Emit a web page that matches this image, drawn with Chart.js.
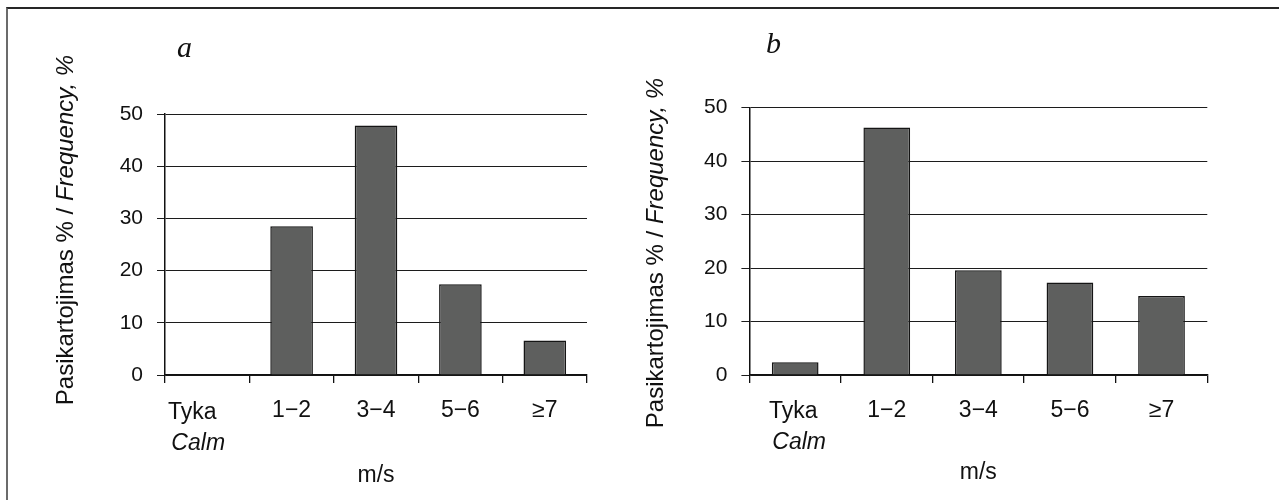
<!DOCTYPE html>
<html>
<head>
<meta charset="utf-8">
<script src="https://cdn.jsdelivr.net/npm/chart.js@4/dist/chart.umd.min.js"></script>
<style>
  html, body { margin: 0; padding: 0; background: #fff; }
  #page { position: relative; width: 1279px; height: 500px; overflow: hidden; }
  #frame { position: absolute; left: 6px; top: 7px; width: 1400px; height: 600px;
           border-top: 2px solid #262626; border-left: 2px solid #6b6b6b; }
  .panel { position: absolute; top: 0; }
</style>
</head>
<body>
<div id="page">
  <div id="frame"></div>
  <canvas id="chartA" class="panel" width="640" height="500" style="left:0"></canvas>
  <canvas id="chartB" class="panel" width="639" height="500" style="left:640px"></canvas>
</div>
<script>
'use strict';

// wind speed classes, m/s
const categories = ['Tyka', '1−2', '3−4', '5−6', '≥7'];
const calmLabel = 'Calm';
// frequency, % (a and b panels)
const frequencyA = [0, 28.5, 47.8, 17.4, 6.6];
const frequencyB = [2.4, 46.3, 19.6, 17.3, 14.8];
const yTickValues = [0, 10, 20, 30, 40, 50];
const yTitle = ['Pasikartojimas % / ', 'Frequency, %'];
const xTitle = 'm/s';
const panelLetters = ['a', 'b'];

const sans = '"Liberation Sans", Arial, sans-serif';
const serif = '"Liberation Serif", "Times New Roman", serif';
const ink = '#111';

Chart.defaults.font.family = sans;
Chart.defaults.color = ink;

// letter, first category label (two styles) and the mixed-style y title
const panelText = {
  id: 'panelText',
  afterDraw(chart, args, opts) {
    const ctx = chart.ctx;
    const x = chart.scales.x;
    const cx = x.getPixelForTick(0) + opts.firstShift;

    ctx.save();
    ctx.fillStyle = ink;
    ctx.textBaseline = 'alphabetic';

    ctx.textAlign = 'left';
    ctx.font = 'italic 30px ' + serif;
    ctx.fillText(opts.letter, opts.letterX, opts.letterY);

    ctx.textAlign = 'center';
    ctx.font = '23px ' + sans;
    ctx.fillText(categories[0], cx, opts.firstBaseline);
    ctx.font = 'italic 23px ' + sans;
    ctx.fillText(calmLabel, cx + 6, opts.firstBaseline + 31);

    ctx.translate(opts.titleX, opts.titleY);
    ctx.rotate(-Math.PI / 2);
    ctx.textAlign = 'left';
    ctx.font = '24px ' + sans;
    const w1 = ctx.measureText(yTitle[0]).width;
    ctx.font = 'italic 24px ' + sans;
    const w2 = ctx.measureText(yTitle[1]).width;
    const start = -(w1 + w2) / 2;
    ctx.font = '24px ' + sans;
    ctx.fillText(yTitle[0], start, 0);
    ctx.font = 'italic 24px ' + sans;
    ctx.fillText(yTitle[1], start + w1, 0);
    ctx.restore();
  }
};

function makePanel(canvasId, values, g) {
  return new Chart(document.getElementById(canvasId), {
    type: 'bar',
    data: {
      labels: categories,
      datasets: [{
        data: values,
        backgroundColor: '#5e5f5e',
        borderColor: '#151515',
        borderWidth: 1.5,
        borderSkipped: 'bottom',
        barPercentage: g.barPct,
        categoryPercentage: 1,
      }],
    },
    plugins: [panelText],
    options: {
      responsive: false,
      animation: false,
      devicePixelRatio: 1,
      layout: {
        padding: {left: 0, right: g.padRight, top: g.padTop, bottom: 0},
      },
      plugins: {
        legend: {display: false},
        tooltip: {enabled: false},
        panelText: g.text,
      },
      scales: {
        x: {
          grid: {
            offset: true,
            drawOnChartArea: false,
            drawTicks: true,
            tickLength: 8,
            color: ink,
            lineWidth: 1.3,
          },
          border: {display: true, color: ink, width: 1.5},
          ticks: {
            font: {size: 23},
            padding: 14,
            maxRotation: 0,
            autoSkip: false,
            callback: (v, i) => (i === 0 ? '' : categories[i]),
          },
          title: {
            display: true,
            text: xTitle,
            font: {size: 23},
            padding: {top: 0, bottom: g.xTitlePad},
          },
          afterFit: (s) => { s.height = 125; },
        },
        y: {
          min: 0,
          max: 50,
          grid: {
            color: '#1c1c1c',
            lineWidth: 1,
            tickLength: 8,
          },
          border: {display: true, color: ink, width: 1.5},
          ticks: {
            font: {size: 21},
            padding: 14,
          },
          afterBuildTicks: (s) => { s.ticks = yTickValues.map((v) => ({value: v})); },
          afterFit: (s) => { s.width = g.yWidth; },
        },
      },
    },
  });
}

makePanel('chartA', frequencyA, {
  barPct: 0.505,
  padRight: 53,
  padTop: 114,
  yWidth: 165,
  xTitlePad: 11,
  text: {
    letter: panelLetters[0], letterX: 177, letterY: 57,
    firstShift: -15, firstBaseline: 419,
    titleX: 73, titleY: 230,
  },
});

makePanel('chartB', frequencyB, {
  barPct: 0.51,
  padRight: 71.7,
  padTop: 107.7,
  yWidth: 109.4,
  xTitlePad: 14,
  text: {
    letter: panelLetters[1], letterX: 126, letterY: 53,
    firstShift: -2, firstBaseline: 418,
    titleX: 23, titleY: 253,
  },
});
</script>
</body>
</html>
